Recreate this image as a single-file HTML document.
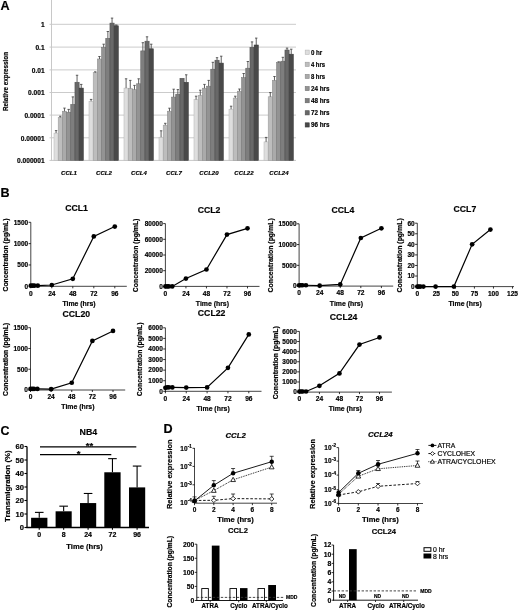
<!DOCTYPE html>
<html><head><meta charset="utf-8"><style>
html,body{margin:0;padding:0;background:#fff;}
svg{display:block;font-family:"Liberation Sans", sans-serif;filter:blur(0.25px);}
text{stroke:#000;stroke-width:0.18px;paint-order:stroke;}
</style></head><body>
<svg width="520" height="611" viewBox="0 0 520 611">
<rect x="0" y="0" width="520" height="611" fill="#fff"/>
<text x="0.50" y="10.07" font-size="12.6" font-weight="bold" text-anchor="start" fill="#000" >A</text>
<line x1="49.50" y1="24.30" x2="296.00" y2="24.30" stroke="#cbcbcb" stroke-width="1" />
<line x1="49.50" y1="47.10" x2="296.00" y2="47.10" stroke="#cbcbcb" stroke-width="1" />
<line x1="49.50" y1="69.90" x2="296.00" y2="69.90" stroke="#cbcbcb" stroke-width="1" />
<line x1="49.50" y1="92.50" x2="296.00" y2="92.50" stroke="#cbcbcb" stroke-width="1" />
<line x1="49.50" y1="115.10" x2="296.00" y2="115.10" stroke="#cbcbcb" stroke-width="1" />
<line x1="49.50" y1="137.80" x2="296.00" y2="137.80" stroke="#cbcbcb" stroke-width="1" />
<line x1="49.50" y1="160.40" x2="296.00" y2="160.40" stroke="#c8c8c8" stroke-width="1" />
<line x1="51.50" y1="0.00" x2="51.50" y2="160.90" stroke="#c8c8c8" stroke-width="1" />
<text x="44.60" y="27.14" font-size="6.6" font-weight="bold" text-anchor="end" fill="#000" >1</text>
<text x="44.60" y="49.94" font-size="6.6" font-weight="bold" text-anchor="end" fill="#000" >0.1</text>
<text x="44.60" y="72.74" font-size="6.6" font-weight="bold" text-anchor="end" fill="#000" >0.01</text>
<text x="44.60" y="95.34" font-size="6.6" font-weight="bold" text-anchor="end" fill="#000" >0.001</text>
<text x="44.60" y="117.94" font-size="6.6" font-weight="bold" text-anchor="end" fill="#000" >0.0001</text>
<text x="44.60" y="140.64" font-size="6.6" font-weight="bold" text-anchor="end" fill="#000" >0.00001</text>
<text x="44.60" y="163.24" font-size="6.6" font-weight="bold" text-anchor="end" fill="#000" >0.000001</text>
<text x="0" y="2.27" font-size="6.4" font-weight="bold" text-anchor="middle" textLength="59.00" lengthAdjust="spacingAndGlyphs" transform="translate(5.60 81.50) rotate(-90)">Relative expression</text>
<defs><linearGradient id="g0" x1="0" y1="0" x2="1" y2="0"><stop offset="0" stop-color="#b8b8b8"/><stop offset="0.22" stop-color="#e8e8e8"/><stop offset="0.55" stop-color="#e2e2e2"/><stop offset="0.85" stop-color="#d8d8d8"/><stop offset="1" stop-color="#b8b8b8"/></linearGradient><linearGradient id="g1" x1="0" y1="0" x2="1" y2="0"><stop offset="0" stop-color="#9c9c9c"/><stop offset="0.22" stop-color="#c7c7c7"/><stop offset="0.55" stop-color="#c1c1c1"/><stop offset="0.85" stop-color="#b7b7b7"/><stop offset="1" stop-color="#9c9c9c"/></linearGradient><linearGradient id="g2" x1="0" y1="0" x2="1" y2="0"><stop offset="0" stop-color="#8a8a8a"/><stop offset="0.22" stop-color="#b4b4b4"/><stop offset="0.55" stop-color="#aeaeae"/><stop offset="0.85" stop-color="#a4a4a4"/><stop offset="1" stop-color="#8a8a8a"/></linearGradient><linearGradient id="g3" x1="0" y1="0" x2="1" y2="0"><stop offset="0" stop-color="#767676"/><stop offset="0.22" stop-color="#9d9d9d"/><stop offset="0.55" stop-color="#979797"/><stop offset="0.85" stop-color="#8d8d8d"/><stop offset="1" stop-color="#767676"/></linearGradient><linearGradient id="g4" x1="0" y1="0" x2="1" y2="0"><stop offset="0" stop-color="#626262"/><stop offset="0.22" stop-color="#888888"/><stop offset="0.55" stop-color="#828282"/><stop offset="0.85" stop-color="#787878"/><stop offset="1" stop-color="#626262"/></linearGradient><linearGradient id="g5" x1="0" y1="0" x2="1" y2="0"><stop offset="0" stop-color="#4e4e4e"/><stop offset="0.22" stop-color="#727272"/><stop offset="0.55" stop-color="#6c6c6c"/><stop offset="0.85" stop-color="#626262"/><stop offset="1" stop-color="#4e4e4e"/></linearGradient><linearGradient id="g6" x1="0" y1="0" x2="1" y2="0"><stop offset="0" stop-color="#353535"/><stop offset="0.22" stop-color="#535353"/><stop offset="0.55" stop-color="#4d4d4d"/><stop offset="0.85" stop-color="#434343"/><stop offset="1" stop-color="#353535"/></linearGradient></defs>
<rect x="54.00" y="133.10" width="4.19" height="27.30" fill="#dedede" stroke="#b8b8b8" stroke-width="0.55"/>
<rect x="58.19" y="117.50" width="4.19" height="42.90" fill="#bdbdbd" stroke="#9c9c9c" stroke-width="0.55"/>
<rect x="62.38" y="111.25" width="4.19" height="49.15" fill="#aaaaaa" stroke="#8a8a8a" stroke-width="0.55"/>
<rect x="66.57" y="112.25" width="4.19" height="48.15" fill="#939393" stroke="#767676" stroke-width="0.55"/>
<rect x="70.76" y="104.40" width="4.19" height="56.00" fill="#7e7e7e" stroke="#626262" stroke-width="0.55"/>
<rect x="74.95" y="82.25" width="4.19" height="78.15" fill="#686868" stroke="#4e4e4e" stroke-width="0.55"/>
<rect x="79.14" y="88.10" width="4.19" height="72.30" fill="#494949" stroke="#353535" stroke-width="0.55"/>
<line x1="56.09" y1="133.10" x2="56.09" y2="130.60" stroke="#444" stroke-width="0.85" />
<line x1="54.89" y1="130.60" x2="57.30" y2="130.60" stroke="#444" stroke-width="0.85" />
<line x1="60.28" y1="117.50" x2="60.28" y2="116.25" stroke="#444" stroke-width="0.85" />
<line x1="59.08" y1="116.25" x2="61.48" y2="116.25" stroke="#444" stroke-width="0.85" />
<line x1="64.48" y1="111.25" x2="64.48" y2="108.10" stroke="#444" stroke-width="0.85" />
<line x1="63.28" y1="108.10" x2="65.68" y2="108.10" stroke="#444" stroke-width="0.85" />
<line x1="68.66" y1="112.25" x2="68.66" y2="109.40" stroke="#444" stroke-width="0.85" />
<line x1="67.46" y1="109.40" x2="69.86" y2="109.40" stroke="#444" stroke-width="0.85" />
<line x1="72.86" y1="104.40" x2="72.86" y2="96.90" stroke="#444" stroke-width="0.85" />
<line x1="71.66" y1="96.90" x2="74.06" y2="96.90" stroke="#444" stroke-width="0.85" />
<line x1="77.05" y1="82.25" x2="77.05" y2="75.25" stroke="#444" stroke-width="0.85" />
<line x1="75.84" y1="75.25" x2="78.25" y2="75.25" stroke="#444" stroke-width="0.85" />
<line x1="81.23" y1="88.10" x2="81.23" y2="84.40" stroke="#444" stroke-width="0.85" />
<line x1="80.03" y1="84.40" x2="82.44" y2="84.40" stroke="#444" stroke-width="0.85" />
<text x="69.00" y="174.87" font-size="6.1" font-weight="bold" text-anchor="middle" fill="#000" font-style="italic" >CCL1</text>
<rect x="89.00" y="101.25" width="4.19" height="59.15" fill="#dedede" stroke="#b8b8b8" stroke-width="0.55"/>
<rect x="93.19" y="72.70" width="4.19" height="87.70" fill="#bdbdbd" stroke="#9c9c9c" stroke-width="0.55"/>
<rect x="97.38" y="59.00" width="4.19" height="101.40" fill="#aaaaaa" stroke="#8a8a8a" stroke-width="0.55"/>
<rect x="101.57" y="47.30" width="4.19" height="113.10" fill="#939393" stroke="#767676" stroke-width="0.55"/>
<rect x="105.76" y="38.30" width="4.19" height="122.10" fill="#7e7e7e" stroke="#626262" stroke-width="0.55"/>
<rect x="109.95" y="23.10" width="4.19" height="137.30" fill="#686868" stroke="#4e4e4e" stroke-width="0.55"/>
<rect x="114.14" y="25.80" width="4.19" height="134.60" fill="#494949" stroke="#353535" stroke-width="0.55"/>
<line x1="91.09" y1="101.25" x2="91.09" y2="99.40" stroke="#444" stroke-width="0.85" />
<line x1="89.89" y1="99.40" x2="92.30" y2="99.40" stroke="#444" stroke-width="0.85" />
<line x1="95.28" y1="72.70" x2="95.28" y2="71.80" stroke="#444" stroke-width="0.85" />
<line x1="94.08" y1="71.80" x2="96.48" y2="71.80" stroke="#444" stroke-width="0.85" />
<line x1="99.47" y1="59.00" x2="99.47" y2="56.50" stroke="#444" stroke-width="0.85" />
<line x1="98.27" y1="56.50" x2="100.67" y2="56.50" stroke="#444" stroke-width="0.85" />
<line x1="103.66" y1="47.30" x2="103.66" y2="44.20" stroke="#444" stroke-width="0.85" />
<line x1="102.46" y1="44.20" x2="104.86" y2="44.20" stroke="#444" stroke-width="0.85" />
<line x1="107.86" y1="38.30" x2="107.86" y2="31.50" stroke="#444" stroke-width="0.85" />
<line x1="106.66" y1="31.50" x2="109.06" y2="31.50" stroke="#444" stroke-width="0.85" />
<line x1="112.05" y1="23.10" x2="112.05" y2="18.10" stroke="#444" stroke-width="0.85" />
<line x1="110.84" y1="18.10" x2="113.25" y2="18.10" stroke="#444" stroke-width="0.85" />
<line x1="116.23" y1="25.80" x2="116.23" y2="25.00" stroke="#444" stroke-width="0.85" />
<line x1="115.03" y1="25.00" x2="117.44" y2="25.00" stroke="#444" stroke-width="0.85" />
<text x="104.00" y="174.87" font-size="6.1" font-weight="bold" text-anchor="middle" fill="#000" font-style="italic" >CCL2</text>
<rect x="124.00" y="88.10" width="4.19" height="72.30" fill="#dedede" stroke="#b8b8b8" stroke-width="0.55"/>
<rect x="128.19" y="88.50" width="4.19" height="71.90" fill="#bdbdbd" stroke="#9c9c9c" stroke-width="0.55"/>
<rect x="132.38" y="89.60" width="4.19" height="70.80" fill="#aaaaaa" stroke="#8a8a8a" stroke-width="0.55"/>
<rect x="136.57" y="83.80" width="4.19" height="76.60" fill="#939393" stroke="#767676" stroke-width="0.55"/>
<rect x="140.76" y="50.90" width="4.19" height="109.50" fill="#7e7e7e" stroke="#626262" stroke-width="0.55"/>
<rect x="144.95" y="41.20" width="4.19" height="119.20" fill="#686868" stroke="#4e4e4e" stroke-width="0.55"/>
<rect x="149.14" y="48.80" width="4.19" height="111.60" fill="#494949" stroke="#353535" stroke-width="0.55"/>
<line x1="126.09" y1="88.10" x2="126.09" y2="78.80" stroke="#444" stroke-width="0.85" />
<line x1="124.89" y1="78.80" x2="127.30" y2="78.80" stroke="#444" stroke-width="0.85" />
<line x1="130.28" y1="88.50" x2="130.28" y2="80.40" stroke="#444" stroke-width="0.85" />
<line x1="129.09" y1="80.40" x2="131.48" y2="80.40" stroke="#444" stroke-width="0.85" />
<line x1="134.47" y1="89.60" x2="134.47" y2="85.40" stroke="#444" stroke-width="0.85" />
<line x1="133.28" y1="85.40" x2="135.67" y2="85.40" stroke="#444" stroke-width="0.85" />
<line x1="138.66" y1="83.80" x2="138.66" y2="78.80" stroke="#444" stroke-width="0.85" />
<line x1="137.47" y1="78.80" x2="139.86" y2="78.80" stroke="#444" stroke-width="0.85" />
<line x1="142.85" y1="50.90" x2="142.85" y2="42.70" stroke="#444" stroke-width="0.85" />
<line x1="141.66" y1="42.70" x2="144.05" y2="42.70" stroke="#444" stroke-width="0.85" />
<line x1="147.04" y1="41.20" x2="147.04" y2="36.80" stroke="#444" stroke-width="0.85" />
<line x1="145.84" y1="36.80" x2="148.24" y2="36.80" stroke="#444" stroke-width="0.85" />
<line x1="151.23" y1="48.80" x2="151.23" y2="44.20" stroke="#444" stroke-width="0.85" />
<line x1="150.03" y1="44.20" x2="152.43" y2="44.20" stroke="#444" stroke-width="0.85" />
<text x="139.00" y="174.87" font-size="6.1" font-weight="bold" text-anchor="middle" fill="#000" font-style="italic" >CCL4</text>
<rect x="159.00" y="137.20" width="4.19" height="23.20" fill="#dedede" stroke="#b8b8b8" stroke-width="0.55"/>
<rect x="163.19" y="125.20" width="4.19" height="35.20" fill="#bdbdbd" stroke="#9c9c9c" stroke-width="0.55"/>
<rect x="167.38" y="111.20" width="4.19" height="49.20" fill="#aaaaaa" stroke="#8a8a8a" stroke-width="0.55"/>
<rect x="171.57" y="97.10" width="4.19" height="63.30" fill="#939393" stroke="#767676" stroke-width="0.55"/>
<rect x="175.76" y="94.20" width="4.19" height="66.20" fill="#7e7e7e" stroke="#626262" stroke-width="0.55"/>
<rect x="179.95" y="78.30" width="4.19" height="82.10" fill="#686868" stroke="#4e4e4e" stroke-width="0.55"/>
<rect x="184.14" y="82.30" width="4.19" height="78.10" fill="#494949" stroke="#353535" stroke-width="0.55"/>
<line x1="161.09" y1="137.20" x2="161.09" y2="130.80" stroke="#444" stroke-width="0.85" />
<line x1="159.90" y1="130.80" x2="162.29" y2="130.80" stroke="#444" stroke-width="0.85" />
<line x1="165.28" y1="125.20" x2="165.28" y2="123.30" stroke="#444" stroke-width="0.85" />
<line x1="164.09" y1="123.30" x2="166.48" y2="123.30" stroke="#444" stroke-width="0.85" />
<line x1="169.47" y1="111.20" x2="169.47" y2="108.20" stroke="#444" stroke-width="0.85" />
<line x1="168.28" y1="108.20" x2="170.67" y2="108.20" stroke="#444" stroke-width="0.85" />
<line x1="173.66" y1="97.10" x2="173.66" y2="89.20" stroke="#444" stroke-width="0.85" />
<line x1="172.47" y1="89.20" x2="174.86" y2="89.20" stroke="#444" stroke-width="0.85" />
<line x1="177.85" y1="94.20" x2="177.85" y2="89.60" stroke="#444" stroke-width="0.85" />
<line x1="176.66" y1="89.60" x2="179.05" y2="89.60" stroke="#444" stroke-width="0.85" />
<line x1="186.23" y1="82.30" x2="186.23" y2="74.80" stroke="#444" stroke-width="0.85" />
<line x1="185.03" y1="74.80" x2="187.43" y2="74.80" stroke="#444" stroke-width="0.85" />
<text x="174.00" y="174.87" font-size="6.1" font-weight="bold" text-anchor="middle" fill="#000" font-style="italic" >CCL7</text>
<rect x="194.00" y="99.60" width="4.19" height="60.80" fill="#dedede" stroke="#b8b8b8" stroke-width="0.55"/>
<rect x="198.19" y="95.40" width="4.19" height="65.00" fill="#bdbdbd" stroke="#9c9c9c" stroke-width="0.55"/>
<rect x="202.38" y="88.20" width="4.19" height="72.20" fill="#aaaaaa" stroke="#8a8a8a" stroke-width="0.55"/>
<rect x="206.57" y="86.20" width="4.19" height="74.20" fill="#939393" stroke="#767676" stroke-width="0.55"/>
<rect x="210.76" y="69.20" width="4.19" height="91.20" fill="#7e7e7e" stroke="#626262" stroke-width="0.55"/>
<rect x="214.95" y="60.20" width="4.19" height="100.20" fill="#686868" stroke="#4e4e4e" stroke-width="0.55"/>
<rect x="219.14" y="63.10" width="4.19" height="97.30" fill="#494949" stroke="#353535" stroke-width="0.55"/>
<line x1="196.09" y1="99.60" x2="196.09" y2="96.20" stroke="#444" stroke-width="0.85" />
<line x1="194.90" y1="96.20" x2="197.29" y2="96.20" stroke="#444" stroke-width="0.85" />
<line x1="200.28" y1="95.40" x2="200.28" y2="90.20" stroke="#444" stroke-width="0.85" />
<line x1="199.09" y1="90.20" x2="201.48" y2="90.20" stroke="#444" stroke-width="0.85" />
<line x1="204.47" y1="88.20" x2="204.47" y2="84.40" stroke="#444" stroke-width="0.85" />
<line x1="203.28" y1="84.40" x2="205.67" y2="84.40" stroke="#444" stroke-width="0.85" />
<line x1="208.66" y1="86.20" x2="208.66" y2="80.40" stroke="#444" stroke-width="0.85" />
<line x1="207.47" y1="80.40" x2="209.86" y2="80.40" stroke="#444" stroke-width="0.85" />
<line x1="212.85" y1="69.20" x2="212.85" y2="62.30" stroke="#444" stroke-width="0.85" />
<line x1="211.66" y1="62.30" x2="214.05" y2="62.30" stroke="#444" stroke-width="0.85" />
<line x1="217.04" y1="60.20" x2="217.04" y2="57.70" stroke="#444" stroke-width="0.85" />
<line x1="215.84" y1="57.70" x2="218.24" y2="57.70" stroke="#444" stroke-width="0.85" />
<line x1="221.23" y1="63.10" x2="221.23" y2="56.20" stroke="#444" stroke-width="0.85" />
<line x1="220.03" y1="56.20" x2="222.43" y2="56.20" stroke="#444" stroke-width="0.85" />
<text x="209.00" y="174.87" font-size="6.1" font-weight="bold" text-anchor="middle" fill="#000" font-style="italic" >CCL20</text>
<rect x="229.00" y="109.20" width="4.19" height="51.20" fill="#dedede" stroke="#b8b8b8" stroke-width="0.55"/>
<rect x="233.19" y="98.10" width="4.19" height="62.30" fill="#bdbdbd" stroke="#9c9c9c" stroke-width="0.55"/>
<rect x="237.38" y="91.20" width="4.19" height="69.20" fill="#aaaaaa" stroke="#8a8a8a" stroke-width="0.55"/>
<rect x="241.57" y="77.70" width="4.19" height="82.70" fill="#939393" stroke="#767676" stroke-width="0.55"/>
<rect x="245.76" y="68.20" width="4.19" height="92.20" fill="#7e7e7e" stroke="#626262" stroke-width="0.55"/>
<rect x="249.95" y="47.30" width="4.19" height="113.10" fill="#686868" stroke="#4e4e4e" stroke-width="0.55"/>
<rect x="254.14" y="45.00" width="4.19" height="115.40" fill="#494949" stroke="#353535" stroke-width="0.55"/>
<line x1="231.09" y1="109.20" x2="231.09" y2="106.20" stroke="#444" stroke-width="0.85" />
<line x1="229.90" y1="106.20" x2="232.29" y2="106.20" stroke="#444" stroke-width="0.85" />
<line x1="235.28" y1="98.10" x2="235.28" y2="96.20" stroke="#444" stroke-width="0.85" />
<line x1="234.09" y1="96.20" x2="236.48" y2="96.20" stroke="#444" stroke-width="0.85" />
<line x1="239.47" y1="91.20" x2="239.47" y2="89.00" stroke="#444" stroke-width="0.85" />
<line x1="238.28" y1="89.00" x2="240.67" y2="89.00" stroke="#444" stroke-width="0.85" />
<line x1="243.66" y1="77.70" x2="243.66" y2="73.50" stroke="#444" stroke-width="0.85" />
<line x1="242.47" y1="73.50" x2="244.86" y2="73.50" stroke="#444" stroke-width="0.85" />
<line x1="247.85" y1="68.20" x2="247.85" y2="61.50" stroke="#444" stroke-width="0.85" />
<line x1="246.66" y1="61.50" x2="249.05" y2="61.50" stroke="#444" stroke-width="0.85" />
<line x1="252.04" y1="47.30" x2="252.04" y2="41.90" stroke="#444" stroke-width="0.85" />
<line x1="250.84" y1="41.90" x2="253.24" y2="41.90" stroke="#444" stroke-width="0.85" />
<line x1="256.24" y1="45.00" x2="256.24" y2="38.10" stroke="#444" stroke-width="0.85" />
<line x1="255.04" y1="38.10" x2="257.44" y2="38.10" stroke="#444" stroke-width="0.85" />
<text x="244.00" y="174.87" font-size="6.1" font-weight="bold" text-anchor="middle" fill="#000" font-style="italic" >CCL22</text>
<rect x="264.00" y="141.90" width="4.19" height="18.50" fill="#dedede" stroke="#b8b8b8" stroke-width="0.55"/>
<rect x="268.19" y="96.80" width="4.19" height="63.60" fill="#bdbdbd" stroke="#9c9c9c" stroke-width="0.55"/>
<rect x="272.38" y="80.40" width="4.19" height="80.00" fill="#aaaaaa" stroke="#8a8a8a" stroke-width="0.55"/>
<rect x="276.57" y="62.50" width="4.19" height="97.90" fill="#939393" stroke="#767676" stroke-width="0.55"/>
<rect x="280.76" y="61.20" width="4.19" height="99.20" fill="#7e7e7e" stroke="#626262" stroke-width="0.55"/>
<rect x="284.95" y="50.00" width="4.19" height="110.40" fill="#686868" stroke="#4e4e4e" stroke-width="0.55"/>
<rect x="289.14" y="54.20" width="4.19" height="106.20" fill="#494949" stroke="#353535" stroke-width="0.55"/>
<line x1="266.10" y1="141.90" x2="266.10" y2="137.40" stroke="#444" stroke-width="0.85" />
<line x1="264.90" y1="137.40" x2="267.30" y2="137.40" stroke="#444" stroke-width="0.85" />
<line x1="270.29" y1="96.80" x2="270.29" y2="92.60" stroke="#444" stroke-width="0.85" />
<line x1="269.09" y1="92.60" x2="271.49" y2="92.60" stroke="#444" stroke-width="0.85" />
<line x1="274.48" y1="80.40" x2="274.48" y2="76.50" stroke="#444" stroke-width="0.85" />
<line x1="273.28" y1="76.50" x2="275.68" y2="76.50" stroke="#444" stroke-width="0.85" />
<line x1="278.67" y1="62.50" x2="278.67" y2="61.80" stroke="#444" stroke-width="0.85" />
<line x1="277.47" y1="61.80" x2="279.87" y2="61.80" stroke="#444" stroke-width="0.85" />
<line x1="282.86" y1="61.20" x2="282.86" y2="57.30" stroke="#444" stroke-width="0.85" />
<line x1="281.66" y1="57.30" x2="284.06" y2="57.30" stroke="#444" stroke-width="0.85" />
<line x1="287.05" y1="50.00" x2="287.05" y2="48.10" stroke="#444" stroke-width="0.85" />
<line x1="285.85" y1="48.10" x2="288.25" y2="48.10" stroke="#444" stroke-width="0.85" />
<line x1="291.24" y1="54.20" x2="291.24" y2="49.20" stroke="#444" stroke-width="0.85" />
<line x1="290.04" y1="49.20" x2="292.44" y2="49.20" stroke="#444" stroke-width="0.85" />
<text x="279.00" y="174.87" font-size="6.1" font-weight="bold" text-anchor="middle" fill="#000" font-style="italic" >CCL24</text>
<rect x="305.20" y="50.10" width="4.00" height="4.20" fill="#dedede" stroke="#b8b8b8" stroke-width="0.6"/>
<text x="310.90" y="54.65" font-size="6.9" font-weight="bold" text-anchor="start" fill="#000" textLength="11.4" lengthAdjust="spacingAndGlyphs" >0 hr</text>
<rect x="305.20" y="62.22" width="4.00" height="4.20" fill="#bdbdbd" stroke="#9c9c9c" stroke-width="0.6"/>
<text x="310.90" y="66.77" font-size="6.9" font-weight="bold" text-anchor="start" fill="#000" textLength="14.2" lengthAdjust="spacingAndGlyphs" >4 hrs</text>
<rect x="305.20" y="74.34" width="4.00" height="4.20" fill="#aaaaaa" stroke="#8a8a8a" stroke-width="0.6"/>
<text x="310.90" y="78.89" font-size="6.9" font-weight="bold" text-anchor="start" fill="#000" textLength="14.2" lengthAdjust="spacingAndGlyphs" >8 hrs</text>
<rect x="305.20" y="86.46" width="4.00" height="4.20" fill="#939393" stroke="#767676" stroke-width="0.6"/>
<text x="310.90" y="91.01" font-size="6.9" font-weight="bold" text-anchor="start" fill="#000" textLength="18.6" lengthAdjust="spacingAndGlyphs" >24 hrs</text>
<rect x="305.20" y="98.58" width="4.00" height="4.20" fill="#7e7e7e" stroke="#626262" stroke-width="0.6"/>
<text x="310.90" y="103.13" font-size="6.9" font-weight="bold" text-anchor="start" fill="#000" textLength="18.6" lengthAdjust="spacingAndGlyphs" >48 hrs</text>
<rect x="305.20" y="110.70" width="4.00" height="4.20" fill="#686868" stroke="#4e4e4e" stroke-width="0.6"/>
<text x="310.90" y="115.25" font-size="6.9" font-weight="bold" text-anchor="start" fill="#000" textLength="18.6" lengthAdjust="spacingAndGlyphs" >72 hrs</text>
<rect x="305.20" y="122.82" width="4.00" height="4.20" fill="#494949" stroke="#353535" stroke-width="0.6"/>
<text x="310.90" y="127.37" font-size="6.9" font-weight="bold" text-anchor="start" fill="#000" textLength="18.6" lengthAdjust="spacingAndGlyphs" >96 hrs</text>
<text x="0.60" y="197.17" font-size="12.6" font-weight="bold" text-anchor="start" fill="#000" >B</text>
<line x1="30.80" y1="222.30" x2="30.80" y2="286.70" stroke="#222" stroke-width="0.85" />
<line x1="30.40" y1="286.30" x2="126.80" y2="286.30" stroke="#222" stroke-width="0.85" />
<line x1="28.60" y1="222.30" x2="30.80" y2="222.30" stroke="#000" stroke-width="0.8" />
<text x="28.20" y="224.61" font-size="6.5" font-weight="bold" text-anchor="end" fill="#000" >1500</text>
<line x1="28.60" y1="243.63" x2="30.80" y2="243.63" stroke="#000" stroke-width="0.8" />
<text x="28.20" y="245.94" font-size="6.5" font-weight="bold" text-anchor="end" fill="#000" >1000</text>
<line x1="28.60" y1="264.97" x2="30.80" y2="264.97" stroke="#000" stroke-width="0.8" />
<text x="28.20" y="267.27" font-size="6.5" font-weight="bold" text-anchor="end" fill="#000" >500</text>
<line x1="28.60" y1="286.30" x2="30.80" y2="286.30" stroke="#000" stroke-width="0.8" />
<text x="28.20" y="288.61" font-size="6.5" font-weight="bold" text-anchor="end" fill="#000" >0</text>
<line x1="30.80" y1="286.30" x2="30.80" y2="288.30" stroke="#000" stroke-width="0.8" />
<text x="30.80" y="295.54" font-size="6.6" font-weight="bold" text-anchor="middle" fill="#000" >0</text>
<line x1="51.80" y1="286.30" x2="51.80" y2="288.30" stroke="#000" stroke-width="0.8" />
<text x="51.80" y="295.54" font-size="6.6" font-weight="bold" text-anchor="middle" fill="#000" >24</text>
<line x1="72.80" y1="286.30" x2="72.80" y2="288.30" stroke="#000" stroke-width="0.8" />
<text x="72.80" y="295.54" font-size="6.6" font-weight="bold" text-anchor="middle" fill="#000" >48</text>
<line x1="93.80" y1="286.30" x2="93.80" y2="288.30" stroke="#000" stroke-width="0.8" />
<text x="93.80" y="295.54" font-size="6.6" font-weight="bold" text-anchor="middle" fill="#000" >72</text>
<line x1="114.80" y1="286.30" x2="114.80" y2="288.30" stroke="#000" stroke-width="0.8" />
<text x="114.80" y="295.54" font-size="6.6" font-weight="bold" text-anchor="middle" fill="#000" >96</text>
<text x="76.60" y="211.29" font-size="8.7" font-weight="bold" text-anchor="middle" fill="#000" >CCL1</text>
<text x="79.00" y="305.55" font-size="6.9" font-weight="bold" text-anchor="middle" fill="#000" >Time (hrs)</text>
<text x="0" y="2.34" font-size="6.6" font-weight="bold" text-anchor="middle" textLength="73.00" lengthAdjust="spacingAndGlyphs" transform="translate(5.80 255.00) rotate(-90)">Concentration (pg/mL)</text>
<polyline fill="none" stroke="#000" stroke-width="1.2" points="30.80,285.66 32.55,285.66 34.30,285.66 37.80,285.66 51.80,285.02 72.80,278.79 93.80,236.38 114.80,226.57"/>
<circle cx="30.80" cy="285.66" r="2.35" fill="#000"/>
<circle cx="32.55" cy="285.66" r="2.35" fill="#000"/>
<circle cx="34.30" cy="285.66" r="2.35" fill="#000"/>
<circle cx="37.80" cy="285.66" r="2.35" fill="#000"/>
<circle cx="51.80" cy="285.02" r="2.35" fill="#000"/>
<circle cx="72.80" cy="278.79" r="2.35" fill="#000"/>
<circle cx="93.80" cy="236.38" r="2.35" fill="#000"/>
<circle cx="114.80" cy="226.57" r="2.35" fill="#000"/>
<line x1="165.40" y1="223.60" x2="165.40" y2="286.80" stroke="#222" stroke-width="0.85" />
<line x1="165.00" y1="286.40" x2="259.50" y2="286.40" stroke="#222" stroke-width="0.85" />
<line x1="163.20" y1="223.60" x2="165.40" y2="223.60" stroke="#000" stroke-width="0.8" />
<text x="162.80" y="225.91" font-size="6.5" font-weight="bold" text-anchor="end" fill="#000" >80000</text>
<line x1="163.20" y1="239.30" x2="165.40" y2="239.30" stroke="#000" stroke-width="0.8" />
<text x="162.80" y="241.61" font-size="6.5" font-weight="bold" text-anchor="end" fill="#000" >60000</text>
<line x1="163.20" y1="255.00" x2="165.40" y2="255.00" stroke="#000" stroke-width="0.8" />
<text x="162.80" y="257.31" font-size="6.5" font-weight="bold" text-anchor="end" fill="#000" >40000</text>
<line x1="163.20" y1="270.70" x2="165.40" y2="270.70" stroke="#000" stroke-width="0.8" />
<text x="162.80" y="273.01" font-size="6.5" font-weight="bold" text-anchor="end" fill="#000" >20000</text>
<line x1="163.20" y1="286.40" x2="165.40" y2="286.40" stroke="#000" stroke-width="0.8" />
<text x="162.80" y="288.71" font-size="6.5" font-weight="bold" text-anchor="end" fill="#000" >0</text>
<line x1="165.40" y1="286.40" x2="165.40" y2="288.40" stroke="#000" stroke-width="0.8" />
<text x="165.40" y="295.64" font-size="6.6" font-weight="bold" text-anchor="middle" fill="#000" >0</text>
<line x1="185.93" y1="286.40" x2="185.93" y2="288.40" stroke="#000" stroke-width="0.8" />
<text x="185.93" y="295.64" font-size="6.6" font-weight="bold" text-anchor="middle" fill="#000" >24</text>
<line x1="206.45" y1="286.40" x2="206.45" y2="288.40" stroke="#000" stroke-width="0.8" />
<text x="206.45" y="295.64" font-size="6.6" font-weight="bold" text-anchor="middle" fill="#000" >48</text>
<line x1="226.97" y1="286.40" x2="226.97" y2="288.40" stroke="#000" stroke-width="0.8" />
<text x="226.97" y="295.64" font-size="6.6" font-weight="bold" text-anchor="middle" fill="#000" >72</text>
<line x1="247.50" y1="286.40" x2="247.50" y2="288.40" stroke="#000" stroke-width="0.8" />
<text x="247.50" y="295.64" font-size="6.6" font-weight="bold" text-anchor="middle" fill="#000" >96</text>
<text x="209.00" y="212.69" font-size="8.7" font-weight="bold" text-anchor="middle" fill="#000" >CCL2</text>
<text x="212.40" y="305.55" font-size="6.9" font-weight="bold" text-anchor="middle" fill="#000" >Time (hrs)</text>
<text x="0" y="2.34" font-size="6.6" font-weight="bold" text-anchor="middle" textLength="73.60" lengthAdjust="spacingAndGlyphs" transform="translate(136.00 255.40) rotate(-90)">Concentration (pg/mL)</text>
<polyline fill="none" stroke="#000" stroke-width="1.2" points="165.40,286.40 167.11,286.40 168.82,286.40 172.24,286.40 185.93,278.55 206.45,269.52 226.97,234.59 247.50,228.31"/>
<circle cx="165.40" cy="286.40" r="2.35" fill="#000"/>
<circle cx="167.11" cy="286.40" r="2.35" fill="#000"/>
<circle cx="168.82" cy="286.40" r="2.35" fill="#000"/>
<circle cx="172.24" cy="286.40" r="2.35" fill="#000"/>
<circle cx="185.93" cy="278.55" r="2.35" fill="#000"/>
<circle cx="206.45" cy="269.52" r="2.35" fill="#000"/>
<circle cx="226.97" cy="234.59" r="2.35" fill="#000"/>
<circle cx="247.50" cy="228.31" r="2.35" fill="#000"/>
<line x1="299.10" y1="223.80" x2="299.10" y2="286.50" stroke="#222" stroke-width="0.85" />
<line x1="298.70" y1="286.10" x2="393.20" y2="286.10" stroke="#222" stroke-width="0.85" />
<line x1="296.90" y1="223.80" x2="299.10" y2="223.80" stroke="#000" stroke-width="0.8" />
<text x="296.50" y="226.11" font-size="6.5" font-weight="bold" text-anchor="end" fill="#000" >15000</text>
<line x1="296.90" y1="244.57" x2="299.10" y2="244.57" stroke="#000" stroke-width="0.8" />
<text x="296.50" y="246.87" font-size="6.5" font-weight="bold" text-anchor="end" fill="#000" >10000</text>
<line x1="296.90" y1="265.33" x2="299.10" y2="265.33" stroke="#000" stroke-width="0.8" />
<text x="296.50" y="267.64" font-size="6.5" font-weight="bold" text-anchor="end" fill="#000" >5000</text>
<line x1="296.90" y1="286.10" x2="299.10" y2="286.10" stroke="#000" stroke-width="0.8" />
<text x="296.50" y="288.41" font-size="6.5" font-weight="bold" text-anchor="end" fill="#000" >0</text>
<line x1="299.10" y1="286.10" x2="299.10" y2="288.10" stroke="#000" stroke-width="0.8" />
<text x="299.10" y="295.34" font-size="6.6" font-weight="bold" text-anchor="middle" fill="#000" >0</text>
<line x1="319.68" y1="286.10" x2="319.68" y2="288.10" stroke="#000" stroke-width="0.8" />
<text x="319.68" y="295.34" font-size="6.6" font-weight="bold" text-anchor="middle" fill="#000" >24</text>
<line x1="340.25" y1="286.10" x2="340.25" y2="288.10" stroke="#000" stroke-width="0.8" />
<text x="340.25" y="295.34" font-size="6.6" font-weight="bold" text-anchor="middle" fill="#000" >48</text>
<line x1="360.82" y1="286.10" x2="360.82" y2="288.10" stroke="#000" stroke-width="0.8" />
<text x="360.82" y="295.34" font-size="6.6" font-weight="bold" text-anchor="middle" fill="#000" >72</text>
<line x1="381.40" y1="286.10" x2="381.40" y2="288.10" stroke="#000" stroke-width="0.8" />
<text x="381.40" y="295.34" font-size="6.6" font-weight="bold" text-anchor="middle" fill="#000" >96</text>
<text x="342.90" y="212.59" font-size="8.7" font-weight="bold" text-anchor="middle" fill="#000" >CCL4</text>
<text x="346.40" y="305.65" font-size="6.9" font-weight="bold" text-anchor="middle" fill="#000" >Time (hrs)</text>
<text x="0" y="2.34" font-size="6.6" font-weight="bold" text-anchor="middle" textLength="74.20" lengthAdjust="spacingAndGlyphs" transform="translate(270.30 255.40) rotate(-90)">Concentration (pg/mL)</text>
<polyline fill="none" stroke="#000" stroke-width="1.2" points="299.10,285.27 300.81,285.27 302.53,285.27 305.96,285.27 319.68,285.68 340.25,284.44 360.82,238.00 381.40,228.29"/>
<circle cx="299.10" cy="285.27" r="2.35" fill="#000"/>
<circle cx="300.81" cy="285.27" r="2.35" fill="#000"/>
<circle cx="302.53" cy="285.27" r="2.35" fill="#000"/>
<circle cx="305.96" cy="285.27" r="2.35" fill="#000"/>
<circle cx="319.68" cy="285.68" r="2.35" fill="#000"/>
<circle cx="340.25" cy="284.44" r="2.35" fill="#000"/>
<circle cx="360.82" cy="238.00" r="2.35" fill="#000"/>
<circle cx="381.40" cy="228.29" r="2.35" fill="#000"/>
<line x1="417.30" y1="223.20" x2="417.30" y2="287.00" stroke="#222" stroke-width="0.85" />
<line x1="416.90" y1="286.60" x2="514.00" y2="286.60" stroke="#222" stroke-width="0.85" />
<line x1="415.10" y1="223.20" x2="417.30" y2="223.20" stroke="#000" stroke-width="0.8" />
<text x="414.70" y="225.51" font-size="6.5" font-weight="bold" text-anchor="end" fill="#000" >60</text>
<line x1="415.10" y1="233.77" x2="417.30" y2="233.77" stroke="#000" stroke-width="0.8" />
<text x="414.70" y="236.07" font-size="6.5" font-weight="bold" text-anchor="end" fill="#000" >50</text>
<line x1="415.10" y1="244.33" x2="417.30" y2="244.33" stroke="#000" stroke-width="0.8" />
<text x="414.70" y="246.64" font-size="6.5" font-weight="bold" text-anchor="end" fill="#000" >40</text>
<line x1="415.10" y1="254.90" x2="417.30" y2="254.90" stroke="#000" stroke-width="0.8" />
<text x="414.70" y="257.21" font-size="6.5" font-weight="bold" text-anchor="end" fill="#000" >30</text>
<line x1="415.10" y1="265.47" x2="417.30" y2="265.47" stroke="#000" stroke-width="0.8" />
<text x="414.70" y="267.77" font-size="6.5" font-weight="bold" text-anchor="end" fill="#000" >20</text>
<line x1="415.10" y1="276.03" x2="417.30" y2="276.03" stroke="#000" stroke-width="0.8" />
<text x="414.70" y="278.34" font-size="6.5" font-weight="bold" text-anchor="end" fill="#000" >10</text>
<line x1="415.10" y1="286.60" x2="417.30" y2="286.60" stroke="#000" stroke-width="0.8" />
<text x="414.70" y="288.91" font-size="6.5" font-weight="bold" text-anchor="end" fill="#000" >0</text>
<line x1="417.30" y1="286.60" x2="417.30" y2="288.60" stroke="#000" stroke-width="0.8" />
<text x="417.30" y="295.84" font-size="6.6" font-weight="bold" text-anchor="middle" fill="#000" >0</text>
<line x1="436.34" y1="286.60" x2="436.34" y2="288.60" stroke="#000" stroke-width="0.8" />
<text x="436.34" y="295.84" font-size="6.6" font-weight="bold" text-anchor="middle" fill="#000" >25</text>
<line x1="455.38" y1="286.60" x2="455.38" y2="288.60" stroke="#000" stroke-width="0.8" />
<text x="455.38" y="295.84" font-size="6.6" font-weight="bold" text-anchor="middle" fill="#000" >50</text>
<line x1="474.42" y1="286.60" x2="474.42" y2="288.60" stroke="#000" stroke-width="0.8" />
<text x="474.42" y="295.84" font-size="6.6" font-weight="bold" text-anchor="middle" fill="#000" >75</text>
<line x1="493.46" y1="286.60" x2="493.46" y2="288.60" stroke="#000" stroke-width="0.8" />
<text x="493.46" y="295.84" font-size="6.6" font-weight="bold" text-anchor="middle" fill="#000" >100</text>
<line x1="512.50" y1="286.60" x2="512.50" y2="288.60" stroke="#000" stroke-width="0.8" />
<text x="512.50" y="295.84" font-size="6.6" font-weight="bold" text-anchor="middle" fill="#000" >125</text>
<text x="464.90" y="211.79" font-size="8.7" font-weight="bold" text-anchor="middle" fill="#000" >CCL7</text>
<text x="465.10" y="305.85" font-size="6.9" font-weight="bold" text-anchor="middle" fill="#000" >Time (hrs)</text>
<text x="0" y="2.34" font-size="6.6" font-weight="bold" text-anchor="middle" textLength="74.20" lengthAdjust="spacingAndGlyphs" transform="translate(399.70 255.40) rotate(-90)">Concentration (pg/mL)</text>
<polyline fill="none" stroke="#000" stroke-width="1.2" points="417.30,286.60 418.82,286.60 420.35,286.60 423.39,286.60 435.58,286.60 453.86,286.60 472.14,244.33 490.41,229.54"/>
<circle cx="417.30" cy="286.60" r="2.35" fill="#000"/>
<circle cx="418.82" cy="286.60" r="2.35" fill="#000"/>
<circle cx="420.35" cy="286.60" r="2.35" fill="#000"/>
<circle cx="423.39" cy="286.60" r="2.35" fill="#000"/>
<circle cx="435.58" cy="286.60" r="2.35" fill="#000"/>
<circle cx="453.86" cy="286.60" r="2.35" fill="#000"/>
<circle cx="472.14" cy="244.33" r="2.35" fill="#000"/>
<circle cx="490.41" cy="229.54" r="2.35" fill="#000"/>
<line x1="30.50" y1="327.70" x2="30.50" y2="390.40" stroke="#222" stroke-width="0.85" />
<line x1="30.10" y1="390.00" x2="125.20" y2="390.00" stroke="#222" stroke-width="0.85" />
<line x1="28.30" y1="327.70" x2="30.50" y2="327.70" stroke="#000" stroke-width="0.8" />
<text x="27.90" y="330.01" font-size="6.5" font-weight="bold" text-anchor="end" fill="#000" >1500</text>
<line x1="28.30" y1="348.47" x2="30.50" y2="348.47" stroke="#000" stroke-width="0.8" />
<text x="27.90" y="350.77" font-size="6.5" font-weight="bold" text-anchor="end" fill="#000" >1000</text>
<line x1="28.30" y1="369.23" x2="30.50" y2="369.23" stroke="#000" stroke-width="0.8" />
<text x="27.90" y="371.54" font-size="6.5" font-weight="bold" text-anchor="end" fill="#000" >500</text>
<line x1="28.30" y1="390.00" x2="30.50" y2="390.00" stroke="#000" stroke-width="0.8" />
<text x="27.90" y="392.31" font-size="6.5" font-weight="bold" text-anchor="end" fill="#000" >0</text>
<line x1="30.50" y1="390.00" x2="30.50" y2="392.00" stroke="#000" stroke-width="0.8" />
<text x="30.50" y="399.24" font-size="6.6" font-weight="bold" text-anchor="middle" fill="#000" >0</text>
<line x1="51.12" y1="390.00" x2="51.12" y2="392.00" stroke="#000" stroke-width="0.8" />
<text x="51.12" y="399.24" font-size="6.6" font-weight="bold" text-anchor="middle" fill="#000" >24</text>
<line x1="71.75" y1="390.00" x2="71.75" y2="392.00" stroke="#000" stroke-width="0.8" />
<text x="71.75" y="399.24" font-size="6.6" font-weight="bold" text-anchor="middle" fill="#000" >48</text>
<line x1="92.38" y1="390.00" x2="92.38" y2="392.00" stroke="#000" stroke-width="0.8" />
<text x="92.38" y="399.24" font-size="6.6" font-weight="bold" text-anchor="middle" fill="#000" >72</text>
<line x1="113.00" y1="390.00" x2="113.00" y2="392.00" stroke="#000" stroke-width="0.8" />
<text x="113.00" y="399.24" font-size="6.6" font-weight="bold" text-anchor="middle" fill="#000" >96</text>
<text x="76.30" y="316.89" font-size="8.7" font-weight="bold" text-anchor="middle" fill="#000" >CCL20</text>
<text x="77.90" y="409.15" font-size="6.9" font-weight="bold" text-anchor="middle" fill="#000" >Time (hrs)</text>
<text x="0" y="2.34" font-size="6.6" font-weight="bold" text-anchor="middle" textLength="73.00" lengthAdjust="spacingAndGlyphs" transform="translate(5.60 359.40) rotate(-90)">Concentration (pg/mL)</text>
<polyline fill="none" stroke="#000" stroke-width="1.2" points="30.50,388.96 32.22,388.96 33.94,388.96 37.38,388.96 51.12,389.17 71.75,382.77 92.38,340.91 113.00,330.94"/>
<circle cx="30.50" cy="388.96" r="2.35" fill="#000"/>
<circle cx="32.22" cy="388.96" r="2.35" fill="#000"/>
<circle cx="33.94" cy="388.96" r="2.35" fill="#000"/>
<circle cx="37.38" cy="388.96" r="2.35" fill="#000"/>
<circle cx="51.12" cy="389.17" r="2.35" fill="#000"/>
<circle cx="71.75" cy="382.77" r="2.35" fill="#000"/>
<circle cx="92.38" cy="340.91" r="2.35" fill="#000"/>
<circle cx="113.00" cy="330.94" r="2.35" fill="#000"/>
<line x1="165.40" y1="327.80" x2="165.40" y2="391.70" stroke="#222" stroke-width="0.85" />
<line x1="165.00" y1="391.30" x2="261.50" y2="391.30" stroke="#222" stroke-width="0.85" />
<line x1="163.20" y1="327.80" x2="165.40" y2="327.80" stroke="#000" stroke-width="0.8" />
<text x="162.80" y="330.11" font-size="6.5" font-weight="bold" text-anchor="end" fill="#000" >6000</text>
<line x1="163.20" y1="338.38" x2="165.40" y2="338.38" stroke="#000" stroke-width="0.8" />
<text x="162.80" y="340.69" font-size="6.5" font-weight="bold" text-anchor="end" fill="#000" >5000</text>
<line x1="163.20" y1="348.97" x2="165.40" y2="348.97" stroke="#000" stroke-width="0.8" />
<text x="162.80" y="351.27" font-size="6.5" font-weight="bold" text-anchor="end" fill="#000" >4000</text>
<line x1="163.20" y1="359.55" x2="165.40" y2="359.55" stroke="#000" stroke-width="0.8" />
<text x="162.80" y="361.86" font-size="6.5" font-weight="bold" text-anchor="end" fill="#000" >3000</text>
<line x1="163.20" y1="370.13" x2="165.40" y2="370.13" stroke="#000" stroke-width="0.8" />
<text x="162.80" y="372.44" font-size="6.5" font-weight="bold" text-anchor="end" fill="#000" >2000</text>
<line x1="163.20" y1="380.72" x2="165.40" y2="380.72" stroke="#000" stroke-width="0.8" />
<text x="162.80" y="383.02" font-size="6.5" font-weight="bold" text-anchor="end" fill="#000" >1000</text>
<line x1="163.20" y1="391.30" x2="165.40" y2="391.30" stroke="#000" stroke-width="0.8" />
<text x="162.80" y="393.61" font-size="6.5" font-weight="bold" text-anchor="end" fill="#000" >0</text>
<line x1="165.40" y1="391.30" x2="165.40" y2="393.30" stroke="#000" stroke-width="0.8" />
<text x="165.40" y="400.54" font-size="6.6" font-weight="bold" text-anchor="middle" fill="#000" >0</text>
<line x1="186.25" y1="391.30" x2="186.25" y2="393.30" stroke="#000" stroke-width="0.8" />
<text x="186.25" y="400.54" font-size="6.6" font-weight="bold" text-anchor="middle" fill="#000" >24</text>
<line x1="207.10" y1="391.30" x2="207.10" y2="393.30" stroke="#000" stroke-width="0.8" />
<text x="207.10" y="400.54" font-size="6.6" font-weight="bold" text-anchor="middle" fill="#000" >48</text>
<line x1="227.95" y1="391.30" x2="227.95" y2="393.30" stroke="#000" stroke-width="0.8" />
<text x="227.95" y="400.54" font-size="6.6" font-weight="bold" text-anchor="middle" fill="#000" >72</text>
<line x1="248.80" y1="391.30" x2="248.80" y2="393.30" stroke="#000" stroke-width="0.8" />
<text x="248.80" y="400.54" font-size="6.6" font-weight="bold" text-anchor="middle" fill="#000" >96</text>
<text x="211.60" y="316.39" font-size="8.7" font-weight="bold" text-anchor="middle" fill="#000" >CCL22</text>
<text x="213.10" y="410.75" font-size="6.9" font-weight="bold" text-anchor="middle" fill="#000" >Time (hrs)</text>
<text x="0" y="2.34" font-size="6.6" font-weight="bold" text-anchor="middle" textLength="73.70" lengthAdjust="spacingAndGlyphs" transform="translate(139.60 359.35) rotate(-90)">Concentration (pg/mL)</text>
<polyline fill="none" stroke="#000" stroke-width="1.2" points="165.40,387.81 167.14,387.28 168.88,387.28 172.35,387.38 186.25,387.60 207.10,387.38 227.95,367.84 248.80,334.39"/>
<circle cx="165.40" cy="387.81" r="2.35" fill="#000"/>
<circle cx="167.14" cy="387.28" r="2.35" fill="#000"/>
<circle cx="168.88" cy="387.28" r="2.35" fill="#000"/>
<circle cx="172.35" cy="387.38" r="2.35" fill="#000"/>
<circle cx="186.25" cy="387.60" r="2.35" fill="#000"/>
<circle cx="207.10" cy="387.38" r="2.35" fill="#000"/>
<circle cx="227.95" cy="367.84" r="2.35" fill="#000"/>
<circle cx="248.80" cy="334.39" r="2.35" fill="#000"/>
<line x1="299.40" y1="331.40" x2="299.40" y2="392.50" stroke="#222" stroke-width="0.85" />
<line x1="299.00" y1="392.10" x2="391.90" y2="392.10" stroke="#222" stroke-width="0.85" />
<line x1="297.20" y1="331.40" x2="299.40" y2="331.40" stroke="#000" stroke-width="0.8" />
<text x="296.80" y="333.71" font-size="6.5" font-weight="bold" text-anchor="end" fill="#000" >6000</text>
<line x1="297.20" y1="341.52" x2="299.40" y2="341.52" stroke="#000" stroke-width="0.8" />
<text x="296.80" y="343.82" font-size="6.5" font-weight="bold" text-anchor="end" fill="#000" >5000</text>
<line x1="297.20" y1="351.63" x2="299.40" y2="351.63" stroke="#000" stroke-width="0.8" />
<text x="296.80" y="353.94" font-size="6.5" font-weight="bold" text-anchor="end" fill="#000" >4000</text>
<line x1="297.20" y1="361.75" x2="299.40" y2="361.75" stroke="#000" stroke-width="0.8" />
<text x="296.80" y="364.06" font-size="6.5" font-weight="bold" text-anchor="end" fill="#000" >3000</text>
<line x1="297.20" y1="371.87" x2="299.40" y2="371.87" stroke="#000" stroke-width="0.8" />
<text x="296.80" y="374.17" font-size="6.5" font-weight="bold" text-anchor="end" fill="#000" >2000</text>
<line x1="297.20" y1="381.98" x2="299.40" y2="381.98" stroke="#000" stroke-width="0.8" />
<text x="296.80" y="384.29" font-size="6.5" font-weight="bold" text-anchor="end" fill="#000" >1000</text>
<line x1="297.20" y1="392.10" x2="299.40" y2="392.10" stroke="#000" stroke-width="0.8" />
<text x="296.80" y="394.41" font-size="6.5" font-weight="bold" text-anchor="end" fill="#000" >0</text>
<line x1="299.40" y1="392.10" x2="299.40" y2="394.10" stroke="#000" stroke-width="0.8" />
<text x="299.40" y="401.34" font-size="6.6" font-weight="bold" text-anchor="middle" fill="#000" >0</text>
<line x1="319.42" y1="392.10" x2="319.42" y2="394.10" stroke="#000" stroke-width="0.8" />
<text x="319.42" y="401.34" font-size="6.6" font-weight="bold" text-anchor="middle" fill="#000" >24</text>
<line x1="339.45" y1="392.10" x2="339.45" y2="394.10" stroke="#000" stroke-width="0.8" />
<text x="339.45" y="401.34" font-size="6.6" font-weight="bold" text-anchor="middle" fill="#000" >48</text>
<line x1="359.48" y1="392.10" x2="359.48" y2="394.10" stroke="#000" stroke-width="0.8" />
<text x="359.48" y="401.34" font-size="6.6" font-weight="bold" text-anchor="middle" fill="#000" >72</text>
<line x1="379.50" y1="392.10" x2="379.50" y2="394.10" stroke="#000" stroke-width="0.8" />
<text x="379.50" y="401.34" font-size="6.6" font-weight="bold" text-anchor="middle" fill="#000" >96</text>
<text x="343.60" y="320.39" font-size="8.7" font-weight="bold" text-anchor="middle" fill="#000" >CCL24</text>
<text x="345.30" y="411.25" font-size="6.9" font-weight="bold" text-anchor="middle" fill="#000" >Time (hrs)</text>
<text x="0" y="2.34" font-size="6.6" font-weight="bold" text-anchor="middle" textLength="73.00" lengthAdjust="spacingAndGlyphs" transform="translate(275.40 362.80) rotate(-90)">Concentration (pg/mL)</text>
<polyline fill="none" stroke="#000" stroke-width="1.2" points="299.40,391.49 301.07,391.49 302.74,391.49 306.07,391.49 319.42,385.83 339.45,373.38 359.48,344.55 379.50,337.47"/>
<circle cx="299.40" cy="391.49" r="2.35" fill="#000"/>
<circle cx="301.07" cy="391.49" r="2.35" fill="#000"/>
<circle cx="302.74" cy="391.49" r="2.35" fill="#000"/>
<circle cx="306.07" cy="391.49" r="2.35" fill="#000"/>
<circle cx="319.42" cy="385.83" r="2.35" fill="#000"/>
<circle cx="339.45" cy="373.38" r="2.35" fill="#000"/>
<circle cx="359.48" cy="344.55" r="2.35" fill="#000"/>
<circle cx="379.50" cy="337.47" r="2.35" fill="#000"/>
<text x="0.60" y="434.60" font-size="12.4" font-weight="bold" text-anchor="start" fill="#000" >C</text>
<line x1="27.00" y1="446.50" x2="27.00" y2="528.10" stroke="#000" stroke-width="1.3" />
<line x1="26.40" y1="527.50" x2="149.00" y2="527.50" stroke="#000" stroke-width="1.3" />
<line x1="24.50" y1="527.50" x2="27.00" y2="527.50" stroke="#000" stroke-width="1.1" />
<text x="24.00" y="530.20" font-size="7.6" font-weight="bold" text-anchor="end" fill="#000" >0</text>
<line x1="24.50" y1="514.00" x2="27.00" y2="514.00" stroke="#000" stroke-width="1.1" />
<text x="24.00" y="516.70" font-size="7.6" font-weight="bold" text-anchor="end" fill="#000" >10</text>
<line x1="24.50" y1="500.50" x2="27.00" y2="500.50" stroke="#000" stroke-width="1.1" />
<text x="24.00" y="503.20" font-size="7.6" font-weight="bold" text-anchor="end" fill="#000" >20</text>
<line x1="24.50" y1="487.00" x2="27.00" y2="487.00" stroke="#000" stroke-width="1.1" />
<text x="24.00" y="489.70" font-size="7.6" font-weight="bold" text-anchor="end" fill="#000" >30</text>
<line x1="24.50" y1="473.50" x2="27.00" y2="473.50" stroke="#000" stroke-width="1.1" />
<text x="24.00" y="476.20" font-size="7.6" font-weight="bold" text-anchor="end" fill="#000" >40</text>
<line x1="24.50" y1="460.00" x2="27.00" y2="460.00" stroke="#000" stroke-width="1.1" />
<text x="24.00" y="462.70" font-size="7.6" font-weight="bold" text-anchor="end" fill="#000" >50</text>
<line x1="24.50" y1="446.50" x2="27.00" y2="446.50" stroke="#000" stroke-width="1.1" />
<text x="24.00" y="449.20" font-size="7.6" font-weight="bold" text-anchor="end" fill="#000" >60</text>
<line x1="39.25" y1="517.78" x2="39.25" y2="512.38" stroke="#000" stroke-width="1.1" />
<line x1="34.95" y1="512.38" x2="43.55" y2="512.38" stroke="#000" stroke-width="1.1" />
<rect x="31.10" y="517.78" width="16.30" height="9.72" fill="#000"/>
<line x1="39.25" y1="527.50" x2="39.25" y2="529.70" stroke="#000" stroke-width="1.1" />
<text x="39.25" y="536.88" font-size="7.0" font-weight="bold" text-anchor="middle" fill="#000" >0</text>
<line x1="63.65" y1="511.30" x2="63.65" y2="506.17" stroke="#000" stroke-width="1.1" />
<line x1="59.35" y1="506.17" x2="67.95" y2="506.17" stroke="#000" stroke-width="1.1" />
<rect x="55.60" y="511.30" width="16.10" height="16.20" fill="#000"/>
<line x1="63.65" y1="527.50" x2="63.65" y2="529.70" stroke="#000" stroke-width="1.1" />
<text x="63.65" y="536.88" font-size="7.0" font-weight="bold" text-anchor="middle" fill="#000" >8</text>
<line x1="88.10" y1="503.06" x2="88.10" y2="493.48" stroke="#000" stroke-width="1.1" />
<line x1="83.80" y1="493.48" x2="92.40" y2="493.48" stroke="#000" stroke-width="1.1" />
<rect x="80.00" y="503.06" width="16.20" height="24.44" fill="#000"/>
<line x1="88.10" y1="527.50" x2="88.10" y2="529.70" stroke="#000" stroke-width="1.1" />
<text x="88.10" y="536.88" font-size="7.0" font-weight="bold" text-anchor="middle" fill="#000" >24</text>
<line x1="112.45" y1="472.28" x2="112.45" y2="458.65" stroke="#000" stroke-width="1.1" />
<line x1="108.15" y1="458.65" x2="116.75" y2="458.65" stroke="#000" stroke-width="1.1" />
<rect x="104.30" y="472.28" width="16.30" height="55.22" fill="#000"/>
<line x1="112.45" y1="527.50" x2="112.45" y2="529.70" stroke="#000" stroke-width="1.1" />
<text x="112.45" y="536.88" font-size="7.0" font-weight="bold" text-anchor="middle" fill="#000" >72</text>
<line x1="137.10" y1="487.40" x2="137.10" y2="466.07" stroke="#000" stroke-width="1.1" />
<line x1="132.80" y1="466.07" x2="141.40" y2="466.07" stroke="#000" stroke-width="1.1" />
<rect x="129.00" y="487.40" width="16.20" height="40.09" fill="#000"/>
<line x1="137.10" y1="527.50" x2="137.10" y2="529.70" stroke="#000" stroke-width="1.1" />
<text x="137.10" y="536.88" font-size="7.0" font-weight="bold" text-anchor="middle" fill="#000" >96</text>
<line x1="40.00" y1="446.90" x2="136.30" y2="446.90" stroke="#000" stroke-width="1.3" />
<line x1="40.00" y1="454.70" x2="111.30" y2="454.70" stroke="#000" stroke-width="1.3" />
<text x="89.50" y="448.97" font-size="9.5" font-weight="bold" text-anchor="middle" fill="#000" >**</text>
<text x="78.50" y="457.37" font-size="9.5" font-weight="bold" text-anchor="middle" fill="#000" >*</text>
<text x="88.40" y="434.82" font-size="8.8" font-weight="bold" text-anchor="middle" fill="#000" >NB4</text>
<text x="84.60" y="548.50" font-size="7.6" font-weight="bold" text-anchor="middle" fill="#000" >Time (hrs)</text>
<text x="0" y="2.77" font-size="7.8" font-weight="bold" text-anchor="middle" textLength="71.60" lengthAdjust="spacingAndGlyphs" transform="translate(7.20 486.10) rotate(-90)">Transmigration (%)</text>
<text x="163.60" y="432.67" font-size="12.6" font-weight="bold" text-anchor="start" fill="#000" >D</text>
<line x1="194.50" y1="448.00" x2="194.50" y2="503.60" stroke="#222" stroke-width="0.85" />
<line x1="194.10" y1="503.20" x2="277.00" y2="503.20" stroke="#222" stroke-width="0.85" />
<line x1="192.50" y1="448.30" x2="194.50" y2="448.30" stroke="#000" stroke-width="0.8" />
<text x="187.50" y="450.61" font-size="6.5" font-weight="bold" text-anchor="end">10</text>
<text x="187.80" y="448.10" font-size="4.6" font-weight="bold" text-anchor="start">-1</text>
<line x1="192.50" y1="466.40" x2="194.50" y2="466.40" stroke="#000" stroke-width="0.8" />
<text x="187.50" y="468.71" font-size="6.5" font-weight="bold" text-anchor="end">10</text>
<text x="187.80" y="466.20" font-size="4.6" font-weight="bold" text-anchor="start">-2</text>
<line x1="192.50" y1="484.80" x2="194.50" y2="484.80" stroke="#000" stroke-width="0.8" />
<text x="187.50" y="487.11" font-size="6.5" font-weight="bold" text-anchor="end">10</text>
<text x="187.80" y="484.60" font-size="4.6" font-weight="bold" text-anchor="start">-3</text>
<line x1="192.50" y1="502.60" x2="194.50" y2="502.60" stroke="#000" stroke-width="0.8" />
<text x="187.50" y="504.91" font-size="6.5" font-weight="bold" text-anchor="end">10</text>
<text x="187.80" y="502.40" font-size="4.6" font-weight="bold" text-anchor="start">-4</text>
<line x1="194.50" y1="503.20" x2="194.50" y2="505.20" stroke="#000" stroke-width="0.8" />
<text x="194.50" y="511.51" font-size="6.5" font-weight="bold" text-anchor="middle" fill="#000" >0</text>
<line x1="213.80" y1="503.20" x2="213.80" y2="505.20" stroke="#000" stroke-width="0.8" />
<text x="213.80" y="511.51" font-size="6.5" font-weight="bold" text-anchor="middle" fill="#000" >2</text>
<line x1="233.10" y1="503.20" x2="233.10" y2="505.20" stroke="#000" stroke-width="0.8" />
<text x="233.10" y="511.51" font-size="6.5" font-weight="bold" text-anchor="middle" fill="#000" >4</text>
<line x1="252.40" y1="503.20" x2="252.40" y2="505.20" stroke="#000" stroke-width="0.8" />
<text x="252.40" y="511.51" font-size="6.5" font-weight="bold" text-anchor="middle" fill="#000" >6</text>
<line x1="271.70" y1="503.20" x2="271.70" y2="505.20" stroke="#000" stroke-width="0.8" />
<text x="271.70" y="511.51" font-size="6.5" font-weight="bold" text-anchor="middle" fill="#000" >8</text>
<text x="235.60" y="438.47" font-size="7.8" font-weight="bold" text-anchor="middle" fill="#000" font-style="italic" >CCL2</text>
<text x="235.50" y="522.40" font-size="7.6" font-weight="bold" text-anchor="middle" fill="#000" >Time (hrs)</text>
<text x="0" y="2.56" font-size="7.2" font-weight="bold" text-anchor="middle" textLength="69.50" lengthAdjust="spacingAndGlyphs" transform="translate(169.40 474.25) rotate(-90)">Relative expression</text>
<polyline fill="none" stroke="#000" stroke-width="0.9" stroke-dasharray="2.6,1.7" points="194.50,500.50 213.80,500.30 233.10,498.60 271.70,498.90"/>
<line x1="213.80" y1="500.30" x2="213.80" y2="496.30" stroke="#000" stroke-width="0.7" />
<line x1="211.80" y1="496.30" x2="215.80" y2="496.30" stroke="#000" stroke-width="0.7" />
<line x1="233.10" y1="498.60" x2="233.10" y2="494.00" stroke="#000" stroke-width="0.7" />
<line x1="231.10" y1="494.00" x2="235.10" y2="494.00" stroke="#000" stroke-width="0.7" />
<line x1="271.70" y1="498.90" x2="271.70" y2="494.00" stroke="#000" stroke-width="0.7" />
<line x1="269.70" y1="494.00" x2="273.70" y2="494.00" stroke="#000" stroke-width="0.7" />
<polyline fill="none" stroke="#000" stroke-width="0.9" stroke-dasharray="0.9,0.9" points="194.50,500.50 213.80,490.60 233.10,479.80 271.70,467.10"/>
<line x1="271.70" y1="467.10" x2="271.70" y2="462.50" stroke="#000" stroke-width="0.7" />
<line x1="269.70" y1="462.50" x2="273.70" y2="462.50" stroke="#000" stroke-width="0.7" />
<polyline fill="none" stroke="#000" stroke-width="0.9" points="194.50,500.90 213.80,485.30 233.10,473.30 271.70,461.70"/>
<line x1="194.50" y1="500.90" x2="194.50" y2="496.90" stroke="#000" stroke-width="0.7" />
<line x1="192.50" y1="496.90" x2="196.50" y2="496.90" stroke="#000" stroke-width="0.7" />
<line x1="213.80" y1="485.30" x2="213.80" y2="480.60" stroke="#000" stroke-width="0.7" />
<line x1="211.80" y1="480.60" x2="215.80" y2="480.60" stroke="#000" stroke-width="0.7" />
<line x1="233.10" y1="473.30" x2="233.10" y2="468.50" stroke="#000" stroke-width="0.7" />
<line x1="231.10" y1="468.50" x2="235.10" y2="468.50" stroke="#000" stroke-width="0.7" />
<line x1="271.70" y1="461.70" x2="271.70" y2="456.30" stroke="#000" stroke-width="0.7" />
<line x1="269.70" y1="456.30" x2="273.70" y2="456.30" stroke="#000" stroke-width="0.7" />
<path d="M194.50 498.20 L196.80 500.50 L194.50 502.80 L192.20 500.50 Z" fill="#fff" stroke="#000" stroke-width="0.8"/>
<path d="M213.80 498.00 L216.10 500.30 L213.80 502.60 L211.50 500.30 Z" fill="#fff" stroke="#000" stroke-width="0.8"/>
<path d="M233.10 496.30 L235.40 498.60 L233.10 500.90 L230.80 498.60 Z" fill="#fff" stroke="#000" stroke-width="0.8"/>
<path d="M271.70 496.60 L274.00 498.90 L271.70 501.20 L269.40 498.90 Z" fill="#fff" stroke="#000" stroke-width="0.8"/>
<path d="M194.50 498.00 L196.88 502.25 L192.12 502.25 Z" fill="#fff" stroke="#000" stroke-width="0.8"/>
<path d="M213.80 488.10 L216.18 492.35 L211.43 492.35 Z" fill="#fff" stroke="#000" stroke-width="0.8"/>
<path d="M233.10 477.30 L235.47 481.55 L230.72 481.55 Z" fill="#fff" stroke="#000" stroke-width="0.8"/>
<path d="M271.70 464.60 L274.07 468.85 L269.32 468.85 Z" fill="#fff" stroke="#000" stroke-width="0.8"/>
<circle cx="194.50" cy="500.90" r="2.20" fill="#000"/>
<circle cx="213.80" cy="485.30" r="2.20" fill="#000"/>
<circle cx="233.10" cy="473.30" r="2.20" fill="#000"/>
<circle cx="271.70" cy="461.70" r="2.20" fill="#000"/>
<line x1="338.60" y1="447.60" x2="338.60" y2="503.90" stroke="#222" stroke-width="0.85" />
<line x1="338.20" y1="503.50" x2="423.00" y2="503.50" stroke="#222" stroke-width="0.85" />
<line x1="336.60" y1="447.60" x2="338.60" y2="447.60" stroke="#000" stroke-width="0.8" />
<text x="331.60" y="449.91" font-size="6.5" font-weight="bold" text-anchor="end">10</text>
<text x="331.90" y="447.40" font-size="4.6" font-weight="bold" text-anchor="start">-2</text>
<line x1="336.60" y1="461.10" x2="338.60" y2="461.10" stroke="#000" stroke-width="0.8" />
<text x="331.60" y="463.41" font-size="6.5" font-weight="bold" text-anchor="end">10</text>
<text x="331.90" y="460.90" font-size="4.6" font-weight="bold" text-anchor="start">-3</text>
<line x1="336.60" y1="475.10" x2="338.60" y2="475.10" stroke="#000" stroke-width="0.8" />
<text x="331.60" y="477.41" font-size="6.5" font-weight="bold" text-anchor="end">10</text>
<text x="331.90" y="474.90" font-size="4.6" font-weight="bold" text-anchor="start">-4</text>
<line x1="336.60" y1="489.70" x2="338.60" y2="489.70" stroke="#000" stroke-width="0.8" />
<text x="331.60" y="492.01" font-size="6.5" font-weight="bold" text-anchor="end">10</text>
<text x="331.90" y="489.50" font-size="4.6" font-weight="bold" text-anchor="start">-5</text>
<line x1="336.60" y1="503.30" x2="338.60" y2="503.30" stroke="#000" stroke-width="0.8" />
<text x="331.60" y="505.61" font-size="6.5" font-weight="bold" text-anchor="end">10</text>
<text x="331.90" y="503.10" font-size="4.6" font-weight="bold" text-anchor="start">-6</text>
<line x1="338.60" y1="503.50" x2="338.60" y2="505.50" stroke="#000" stroke-width="0.8" />
<text x="338.60" y="511.81" font-size="6.5" font-weight="bold" text-anchor="middle" fill="#000" >0</text>
<line x1="358.32" y1="503.50" x2="358.32" y2="505.50" stroke="#000" stroke-width="0.8" />
<text x="358.32" y="511.81" font-size="6.5" font-weight="bold" text-anchor="middle" fill="#000" >2</text>
<line x1="378.04" y1="503.50" x2="378.04" y2="505.50" stroke="#000" stroke-width="0.8" />
<text x="378.04" y="511.81" font-size="6.5" font-weight="bold" text-anchor="middle" fill="#000" >4</text>
<line x1="397.76" y1="503.50" x2="397.76" y2="505.50" stroke="#000" stroke-width="0.8" />
<text x="397.76" y="511.81" font-size="6.5" font-weight="bold" text-anchor="middle" fill="#000" >6</text>
<line x1="417.48" y1="503.50" x2="417.48" y2="505.50" stroke="#000" stroke-width="0.8" />
<text x="417.48" y="511.81" font-size="6.5" font-weight="bold" text-anchor="middle" fill="#000" >8</text>
<text x="380.30" y="436.97" font-size="7.8" font-weight="bold" text-anchor="middle" fill="#000" font-style="italic" >CCL24</text>
<text x="380.40" y="522.40" font-size="7.6" font-weight="bold" text-anchor="middle" fill="#000" >Time (hrs)</text>
<text x="0" y="2.56" font-size="7.2" font-weight="bold" text-anchor="middle" textLength="70.10" lengthAdjust="spacingAndGlyphs" transform="translate(312.50 473.95) rotate(-90)">Relative expression</text>
<polyline fill="none" stroke="#000" stroke-width="0.9" stroke-dasharray="2.6,1.7" points="338.60,495.00 358.32,491.80 378.04,486.30 417.48,483.50"/>
<line x1="378.04" y1="486.30" x2="378.04" y2="483.50" stroke="#000" stroke-width="0.7" />
<line x1="376.04" y1="483.50" x2="380.04" y2="483.50" stroke="#000" stroke-width="0.7" />
<line x1="417.48" y1="483.50" x2="417.48" y2="481.50" stroke="#000" stroke-width="0.7" />
<line x1="415.48" y1="481.50" x2="419.48" y2="481.50" stroke="#000" stroke-width="0.7" />
<polyline fill="none" stroke="#000" stroke-width="0.9" stroke-dasharray="0.9,0.9" points="338.60,494.30 358.32,476.30 378.04,468.80 417.48,465.50"/>
<line x1="358.32" y1="476.30" x2="358.32" y2="473.50" stroke="#000" stroke-width="0.7" />
<line x1="356.32" y1="473.50" x2="360.32" y2="473.50" stroke="#000" stroke-width="0.7" />
<line x1="378.04" y1="468.80" x2="378.04" y2="466.00" stroke="#000" stroke-width="0.7" />
<line x1="376.04" y1="466.00" x2="380.04" y2="466.00" stroke="#000" stroke-width="0.7" />
<line x1="417.48" y1="465.50" x2="417.48" y2="461.00" stroke="#000" stroke-width="0.7" />
<line x1="415.48" y1="461.00" x2="419.48" y2="461.00" stroke="#000" stroke-width="0.7" />
<polyline fill="none" stroke="#000" stroke-width="0.9" points="338.60,492.50 358.32,473.30 378.04,464.30 417.48,453.30"/>
<line x1="358.32" y1="473.30" x2="358.32" y2="470.50" stroke="#000" stroke-width="0.7" />
<line x1="356.32" y1="470.50" x2="360.32" y2="470.50" stroke="#000" stroke-width="0.7" />
<line x1="378.04" y1="464.30" x2="378.04" y2="460.50" stroke="#000" stroke-width="0.7" />
<line x1="376.04" y1="460.50" x2="380.04" y2="460.50" stroke="#000" stroke-width="0.7" />
<line x1="417.48" y1="453.30" x2="417.48" y2="449.50" stroke="#000" stroke-width="0.7" />
<line x1="415.48" y1="449.50" x2="419.48" y2="449.50" stroke="#000" stroke-width="0.7" />
<path d="M338.60 492.70 L340.90 495.00 L338.60 497.30 L336.30 495.00 Z" fill="#fff" stroke="#000" stroke-width="0.8"/>
<path d="M358.32 489.50 L360.62 491.80 L358.32 494.10 L356.02 491.80 Z" fill="#fff" stroke="#000" stroke-width="0.8"/>
<path d="M378.04 484.00 L380.34 486.30 L378.04 488.60 L375.74 486.30 Z" fill="#fff" stroke="#000" stroke-width="0.8"/>
<path d="M417.48 481.20 L419.78 483.50 L417.48 485.80 L415.18 483.50 Z" fill="#fff" stroke="#000" stroke-width="0.8"/>
<path d="M338.60 491.80 L340.98 496.05 L336.23 496.05 Z" fill="#fff" stroke="#000" stroke-width="0.8"/>
<path d="M358.32 473.80 L360.70 478.05 L355.95 478.05 Z" fill="#fff" stroke="#000" stroke-width="0.8"/>
<path d="M378.04 466.30 L380.42 470.55 L375.67 470.55 Z" fill="#fff" stroke="#000" stroke-width="0.8"/>
<path d="M417.48 463.00 L419.86 467.25 L415.11 467.25 Z" fill="#fff" stroke="#000" stroke-width="0.8"/>
<circle cx="338.60" cy="492.50" r="2.20" fill="#000"/>
<circle cx="358.32" cy="473.30" r="2.20" fill="#000"/>
<circle cx="378.04" cy="464.30" r="2.20" fill="#000"/>
<circle cx="417.48" cy="453.30" r="2.20" fill="#000"/>
<circle cx="338.6" cy="494.6" r="2.1" fill="#000"/>
<line x1="428.4" y1="445.40" x2="436.4" y2="445.40" stroke="#000" stroke-width="0.9"/>
<circle cx="432.40" cy="445.40" r="1.87" fill="#000"/>
<text x="437.60" y="447.81" font-size="6.8" font-weight="normal" text-anchor="start" fill="#000" >ATRA</text>
<line x1="428.4" y1="453.55" x2="436.4" y2="453.55" stroke="#000" stroke-width="0.9" stroke-dasharray="2.6,1.7"/>
<path d="M432.40 451.59 L434.35 453.55 L432.40 455.50 L430.44 453.55 Z" fill="#fff" stroke="#000" stroke-width="0.8"/>
<text x="437.60" y="455.96" font-size="6.8" font-weight="normal" text-anchor="start" fill="#000" >CYCLOHEX</text>
<line x1="428.4" y1="461.70" x2="436.4" y2="461.70" stroke="#000" stroke-width="0.9" stroke-dasharray="0.9,0.9"/>
<path d="M432.40 459.57 L434.42 463.19 L430.38 463.19 Z" fill="#fff" stroke="#000" stroke-width="0.8"/>
<text x="437.60" y="464.11" font-size="6.8" font-weight="normal" text-anchor="start" fill="#000" textLength="58.1" lengthAdjust="spacingAndGlyphs" >ATRA/CYCLOHEX</text>
<line x1="196.80" y1="544.20" x2="196.80" y2="600.90" stroke="#000" stroke-width="0.9" />
<line x1="196.40" y1="600.50" x2="283.00" y2="600.50" stroke="#000" stroke-width="0.9" />
<line x1="194.80" y1="600.50" x2="196.80" y2="600.50" stroke="#000" stroke-width="0.8" />
<text x="194.40" y="602.91" font-size="6.8" font-weight="bold" text-anchor="end" fill="#000" >0</text>
<line x1="194.80" y1="586.42" x2="196.80" y2="586.42" stroke="#000" stroke-width="0.8" />
<text x="194.40" y="588.84" font-size="6.8" font-weight="bold" text-anchor="end" fill="#000" >50</text>
<line x1="194.80" y1="572.35" x2="196.80" y2="572.35" stroke="#000" stroke-width="0.8" />
<text x="194.40" y="574.76" font-size="6.8" font-weight="bold" text-anchor="end" fill="#000" >100</text>
<line x1="194.80" y1="558.27" x2="196.80" y2="558.27" stroke="#000" stroke-width="0.8" />
<text x="194.40" y="560.69" font-size="6.8" font-weight="bold" text-anchor="end" fill="#000" >150</text>
<line x1="194.80" y1="544.20" x2="196.80" y2="544.20" stroke="#000" stroke-width="0.8" />
<text x="194.40" y="546.61" font-size="6.8" font-weight="bold" text-anchor="end" fill="#000" >200</text>
<text x="238.00" y="533.00" font-size="7.6" font-weight="bold" text-anchor="middle" fill="#000" >CCL2</text>
<rect x="201.75" y="588.56" width="6.60" height="11.94" fill="#fff" stroke="#000" stroke-width="0.9"/>
<rect x="211.80" y="545.61" width="7.70" height="54.89" fill="#000"/>
<rect x="229.95" y="588.56" width="6.60" height="11.94" fill="#fff" stroke="#000" stroke-width="0.9"/>
<rect x="240.00" y="588.11" width="7.50" height="12.39" fill="#000"/>
<rect x="257.95" y="588.56" width="6.60" height="11.94" fill="#fff" stroke="#000" stroke-width="0.9"/>
<rect x="268.20" y="585.02" width="7.80" height="15.48" fill="#000"/>
<line x1="196.80" y1="597.40" x2="283.40" y2="597.40" stroke="#333" stroke-width="0.9" stroke-dasharray="2.4,1.6" />
<text x="286.00" y="599.17" font-size="5.0" font-weight="bold" text-anchor="start" fill="#000" >MDD</text>
<line x1="210.20" y1="600.50" x2="210.20" y2="602.30" stroke="#000" stroke-width="0.8" />
<text x="210.00" y="608.14" font-size="6.3" font-weight="bold" text-anchor="middle" fill="#000" >ATRA</text>
<line x1="238.70" y1="600.50" x2="238.70" y2="602.30" stroke="#000" stroke-width="0.8" />
<text x="238.90" y="608.14" font-size="6.3" font-weight="bold" text-anchor="middle" fill="#000" >Cyclo</text>
<line x1="266.30" y1="600.50" x2="266.30" y2="602.30" stroke="#000" stroke-width="0.8" />
<text x="270.00" y="608.14" font-size="6.3" font-weight="bold" text-anchor="middle" fill="#000" >ATRA/Cyclo</text>
<text x="0" y="2.41" font-size="6.8" font-weight="bold" text-anchor="middle" textLength="71.50" lengthAdjust="spacingAndGlyphs" transform="translate(169.50 571.75) rotate(-90)">Concentration (pg/mL)</text>
<line x1="333.60" y1="545.00" x2="333.60" y2="600.60" stroke="#000" stroke-width="0.9" />
<line x1="333.20" y1="600.20" x2="418.00" y2="600.20" stroke="#000" stroke-width="0.9" />
<line x1="331.60" y1="600.20" x2="333.60" y2="600.20" stroke="#000" stroke-width="0.8" />
<text x="331.20" y="602.61" font-size="6.8" font-weight="bold" text-anchor="end" fill="#000" >0</text>
<line x1="331.60" y1="591.00" x2="333.60" y2="591.00" stroke="#000" stroke-width="0.8" />
<text x="331.20" y="593.41" font-size="6.8" font-weight="bold" text-anchor="end" fill="#000" >2</text>
<line x1="331.60" y1="581.80" x2="333.60" y2="581.80" stroke="#000" stroke-width="0.8" />
<text x="331.20" y="584.21" font-size="6.8" font-weight="bold" text-anchor="end" fill="#000" >4</text>
<line x1="331.60" y1="572.60" x2="333.60" y2="572.60" stroke="#000" stroke-width="0.8" />
<text x="331.20" y="575.01" font-size="6.8" font-weight="bold" text-anchor="end" fill="#000" >6</text>
<line x1="331.60" y1="563.40" x2="333.60" y2="563.40" stroke="#000" stroke-width="0.8" />
<text x="331.20" y="565.81" font-size="6.8" font-weight="bold" text-anchor="end" fill="#000" >8</text>
<line x1="331.60" y1="554.20" x2="333.60" y2="554.20" stroke="#000" stroke-width="0.8" />
<text x="331.20" y="556.61" font-size="6.8" font-weight="bold" text-anchor="end" fill="#000" >10</text>
<line x1="331.60" y1="545.00" x2="333.60" y2="545.00" stroke="#000" stroke-width="0.8" />
<text x="331.20" y="547.41" font-size="6.8" font-weight="bold" text-anchor="end" fill="#000" >12</text>
<text x="383.90" y="533.60" font-size="7.6" font-weight="bold" text-anchor="middle" fill="#000" >CCL24</text>
<rect x="349.00" y="549.14" width="7.70" height="51.06" fill="#000"/>
<line x1="333.60" y1="590.90" x2="417.30" y2="590.90" stroke="#333" stroke-width="0.9" stroke-dasharray="2.4,1.6" />
<text x="420.30" y="592.67" font-size="5.0" font-weight="bold" text-anchor="start" fill="#000" >MDD</text>
<line x1="347.60" y1="600.20" x2="347.60" y2="602.00" stroke="#000" stroke-width="0.8" />
<text x="347.60" y="607.84" font-size="6.3" font-weight="bold" text-anchor="middle" fill="#000" >ATRA</text>
<line x1="375.50" y1="600.20" x2="375.50" y2="602.00" stroke="#000" stroke-width="0.8" />
<text x="376.00" y="607.84" font-size="6.3" font-weight="bold" text-anchor="middle" fill="#000" >Cyclo</text>
<line x1="403.70" y1="600.20" x2="403.70" y2="602.00" stroke="#000" stroke-width="0.8" />
<text x="406.90" y="607.84" font-size="6.3" font-weight="bold" text-anchor="middle" fill="#000" >ATRA/Cyclo</text>
<text x="0" y="2.41" font-size="6.8" font-weight="bold" text-anchor="middle" textLength="73.00" lengthAdjust="spacingAndGlyphs" transform="translate(314.00 570.50) rotate(-90)">Concentration (pg/mL)</text>
<text x="342.30" y="598.04" font-size="4.9" font-weight="bold" text-anchor="middle" fill="#000" >ND</text>
<text x="377.60" y="598.04" font-size="4.9" font-weight="bold" text-anchor="middle" fill="#000" >ND</text>
<text x="405.60" y="598.04" font-size="4.9" font-weight="bold" text-anchor="middle" fill="#000" >ND</text>
<rect x="424.00" y="547.70" width="6.90" height="3.60" fill="#fff" stroke="#000" stroke-width="1.0"/>
<rect x="423.50" y="553.50" width="7.80" height="5.00" fill="#000"/>
<text x="432.90" y="552.05" font-size="6.9" font-weight="normal" text-anchor="start" fill="#000" >0 hr</text>
<text x="432.90" y="558.65" font-size="6.9" font-weight="normal" text-anchor="start" fill="#000" >8 hrs</text>
</svg>
</body></html>
